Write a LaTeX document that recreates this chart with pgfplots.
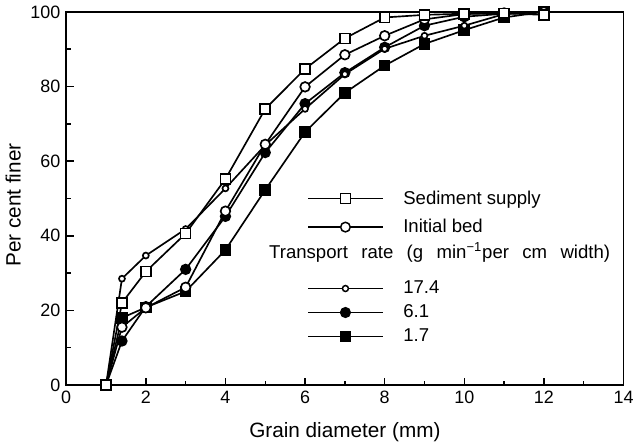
\documentclass[border=0pt]{standalone}
\usepackage{fontspec}
\setmainfont{Liberation Sans}
\usepackage{pgfplots}
\pgfplotsset{compat=1.18}
\pgfplotsset{
  common/.style={
    scale only axis,
    width=336pt, height=225pt,
    xmin=0, xmax=14, ymin=0, ymax=100,
    legend image code/.code={\draw[mark repeat=2,mark phase=2] plot coordinates {(0pt,0pt)(22.5pt,0pt)(45pt,0pt)};},
    legend cell align=left,
  },
  legsty/.style={draw=none, fill=none, inner sep=0pt, outer sep=0pt,
    font=\fontsize{11.2}{13}\selectfont,
    /tikz/every odd column/.append style={column sep=10pt}},
}
\begin{document}
\begin{tikzpicture}
\begin{axis}[
  common,
  xtick={0,2,...,14}, ytick={0,20,...,100},
  minor x tick num=1, minor y tick num=1,
  tick align=inside, xtick pos=bottom, ytick pos=left,
  major tick length=4.5pt, minor tick length=2.7pt,
  every tick/.style={line width=0.9pt, black},
  axis line style={line width=1pt},
  /pgf/number format/assume math mode=true,
  ticklabel style={font=\fontsize{10.8}{12}\selectfont},
  label style={font=\fontsize{12.5}{14}\selectfont},
  xlabel={Grain diameter (mm)},
  ylabel={Per cent finer},
  xlabel style={yshift=-4.5pt},
  ylabel style={yshift=-1pt, xshift=-4pt},
  clip=false,
  every axis plot/.append style={line width=1pt, black, mark options={line width=0.9pt, solid}},
  legend style={legsty, at={(axis cs:6.06,53)}, anchor=north west, row sep=3.6pt},
]
% 1.7 g/min per cm width
\addplot[mark=square*, mark size=3pt, mark options={fill=black}, forget plot] coordinates {
(1,0)(1.4,18)(2,20.8)(3,25.1)(4,36.2)(5,52.3)(6,67.8)(7,78.3)(8,85.6)(9,91.4)(10,95.1)(11,98.5)(12,100)};
% 6.1
\addplot[mark=*, mark size=2.9pt, mark options={fill=black}, forget plot] coordinates {
(1,0)(1.4,11.8)(2,21)(3,31)(4,45.2)(5,62.3)(6,75.4)(7,83.7)(8,90.5)(9,96.3)(10,98.7)(11,99.5)(12,100)};
% 17.4
\addplot[mark=*, mark size=1.8pt, mark options={fill=white}, forget plot] coordinates {
(1,0)(1.4,28.5)(2,34.7)(3,41.8)(4,52.7)(5,64.3)(6,74)(7,83.3)(8,90.1)(9,93.6)(10,96.3)(11,99.4)(12,100)};
% Initial bed
\addplot[mark=*, mark size=2.9pt, mark options={fill=white}, forget plot] coordinates {
(1,0)(1.4,15.5)(2,20.7)(3,26.2)(4,46.6)(5,64.5)(6,79.9)(7,88.5)(8,93.6)(9,98)(10,99.4)(11,99.7)(12,100)};
% Sediment supply
\addplot[mark=square*, mark size=3pt, mark options={fill=white}, forget plot] coordinates {
(1,0)(1.4,22)(2,30.4)(3,40.6)(4,55.2)(5,74)(6,84.7)(7,92.9)(8,98.5)(9,99.2)(10,99.5)(11,99.6)(12,99.2)};

\addlegendimage{black, line width=0.8pt, mark=square*, mark size=3pt, mark options={fill=white, line width=0.9pt}}
\addlegendentry{Sediment supply}
\addlegendimage{black, line width=0.8pt, mark=*, mark size=2.9pt, mark options={fill=white, line width=0.9pt}}
\addlegendentry{Initial bed}

\node[anchor=west, inner sep=0pt, font=\fontsize{11.2}{13}\selectfont] at (axis cs:5.09,35.5)
  {Transport\hspace{0.72em}rate\hspace{0.72em}(g\hspace{0.72em}min\textsuperscript{−1}per\hspace{0.72em}cm\hspace{0.72em}width)};
\end{axis}
\begin{axis}[
  common, hide axis,
  legend style={legsty, at={(axis cs:6.06,28.8)}, anchor=north west, row sep=1.2pt},
]
\addlegendimage{black, line width=0.8pt, mark=*, mark size=1.8pt, mark options={fill=white, line width=0.9pt}}
\addlegendentry{17.4}
\addlegendimage{black, line width=0.8pt, mark=*, mark size=2.9pt, mark options={fill=black, line width=0.9pt}}
\addlegendentry{6.1}
\addlegendimage{black, line width=0.8pt, mark=square*, mark size=3pt, mark options={fill=black, line width=0.9pt}}
\addlegendentry{1.7}
\end{axis}
\end{tikzpicture}
\end{document}
